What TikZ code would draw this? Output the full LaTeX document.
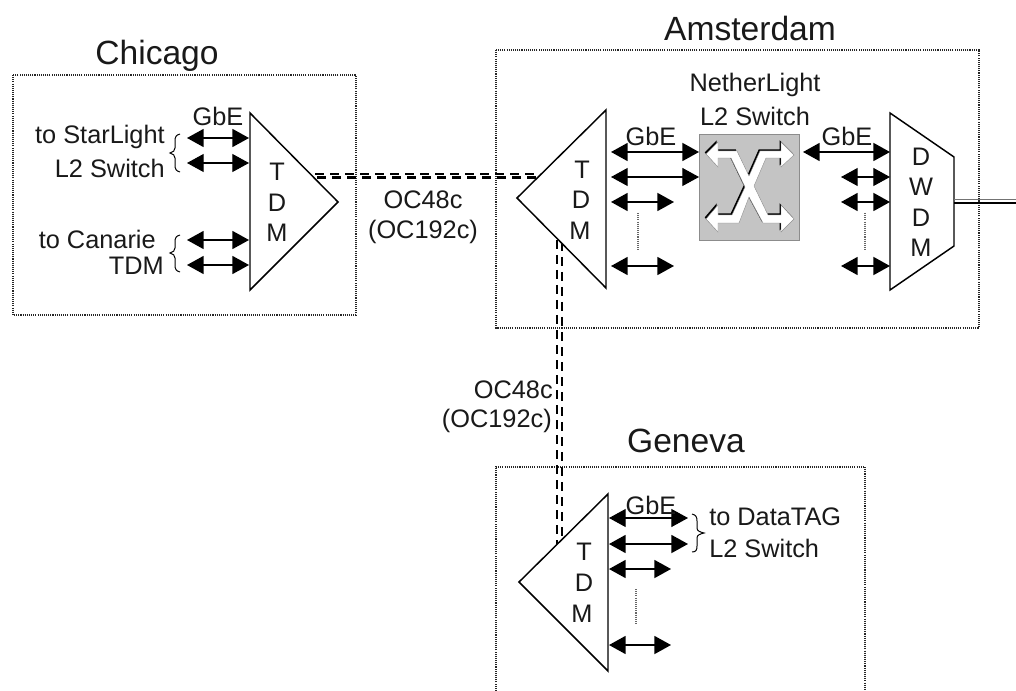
\documentclass[tikz,border=0pt]{standalone}
\usepackage{fontspec}
\setmainfont{Liberation Sans}
\usetikzlibrary{arrows.meta}
\tikzset{
  site/.style={draw=black!85,line width=0.8pt,dash pattern=on 0.8pt off 0.8pt},
  device/.style={draw=black,line width=1.1pt,fill=white,line join=miter},
  lbl/.style={inner sep=0pt,font=\fontsize{19}{21}\selectfont,text=black!90},
  ttl/.style={inner sep=0pt,font=\fontsize{25.2}{28}\selectfont,text=black!90},
  bia/.style={{Triangle[length=12.5pt,width=13.5pt]}-{Triangle[length=12.5pt,width=13.5pt]},line width=1.3pt},
  bib/.style={bia,line width=0.8pt},
  vdots/.style={draw=black!60,line width=0.8pt,dash pattern=on 0.8pt off 0.8pt},
  trunk/.style={draw=black,line width=1.7pt,dash pattern=on 6.8pt off 4.45pt},
  cbrace/.style={draw=black,line width=0.75pt},
}
\newcommand{\switchshape}{(706,154) -- (718,142) -- (718,151) -- (737,151) -- (749,176) -- (760,151) -- (781,151) -- (781,142) -- (794,155) -- (781,167) -- (781,158) -- (766,158) -- (754,186) -- (768,215) -- (781,215) -- (781,205) -- (794,219) -- (781,232) -- (781,223) -- (763,223) -- (749,197) -- (739,223) -- (718,223) -- (718,232) -- (706,219) -- (718,205) -- (718,215) -- (732,215) -- (745,187) -- (731,158) -- (718,158) -- (718,167) -- cycle}
\begin{document}
\begin{tikzpicture}[x=0.75pt,y=-0.75pt]
\useasboundingbox (0,0) rectangle (1016,691);
% sites
\draw[site] (13,75) rectangle (356,315);
\draw[site] (496,50) rectangle (979,328);
\draw[site] (496,691) -- (496,467) -- (865,467) -- (865,691);
\node[ttl] (tchi) at (157,56) {Chicago};
\node[ttl] (tams) at (750,28) {Amsterdam};
\node[ttl] (tgen) at (686,441) {Geneva};
% trunks
\coordinate (tc1) at (315,174); \coordinate (ta1) at (540,174);
\coordinate (tc2) at (317,177.5); \coordinate (ta2) at (537,177.5);
\coordinate (va1) at (557.3,240); \coordinate (vg1) at (557.3,551);
\coordinate (va2) at (561.7,242); \coordinate (vg2) at (561.7,549);
\draw[trunk] (tc1) -- (ta1);
\draw[trunk] (tc2) -- (ta2);
\draw[trunk] (va1) -- (vg1);
\draw[trunk] (va2) -- (vg2);
% devices
\draw[device] (250,113) -- (250,290) -- (338,202) -- cycle;
\draw[device] (606,110) -- (606,288) -- (517,198) -- cycle;
\draw[device] (608,494) -- (608,671) -- (519,582) -- cycle;
\draw[device] (890,113) -- (954,157) -- (954,246) -- (890,290) -- cycle;
% device letters
\node[lbl] (c1) at (277,172) {T};
\node[lbl] (c2) at (277,203) {D};
\node[lbl] (c3) at (277,233) {M};
\node[lbl] (a1) at (582,170) {T};
\node[lbl] (a2) at (581,200) {D};
\node[lbl] (a3) at (580,231) {M};
\node[lbl] (g1) at (584,552) {T};
\node[lbl] (g2) at (584,583) {D};
\node[lbl] (g3) at (582,614) {M};
\node[lbl] (d1) at (921,157) {D};
\node[lbl] (d2) at (921,187) {W};
\node[lbl] (d3) at (921,218) {D};
\node[lbl] (d4) at (921,248) {M};
% switch
\node[draw=black!45,line width=0.6pt,fill=black!23,minimum width=75.5pt,minimum height=79.5pt,inner sep=0pt] (sw) at (749.5,187) {};
\fill[black,shift={(-1.3,-1.6)}] \switchshape;
\draw[fill=white,draw=black!45,line width=0.3pt] \switchshape;
% chicago arrows
\coordinate (cl1) at (187,138); \coordinate (cr1) at (249,138);
\coordinate (cl2) at (187,163); \coordinate (cr2) at (249,163);
\coordinate (cl3) at (187,240); \coordinate (cr3) at (249,240);
\coordinate (cl4) at (187,265); \coordinate (cr4) at (249,265);
\draw[bia] (cl1) -- (cr1);
\draw[bib] (cl2) -- (cr2);
\draw[bia] (cl3) -- (cr3);
\draw[bia] (cl4) -- (cr4);
% amsterdam arrows
\coordinate (al1) at (611,152); \coordinate (ar1) at (699,152);
\coordinate (al2) at (611,177); \coordinate (ar2) at (699,177);
\coordinate (al3) at (611,202); \coordinate (ar3) at (674,202);
\coordinate (al4) at (611,266); \coordinate (ar4) at (674,266);
\draw[bia] (al1) -- (ar1);
\draw[bib] (al2) -- (ar2);
\draw[bia] (al3) -- (ar3);
\draw[bia] (al4) -- (ar4);
\coordinate (dl1) at (803,152); \coordinate (dr1) at (890,152);
\coordinate (dl2) at (841,177); \coordinate (dr2) at (890,177);
\coordinate (dl3) at (841,202); \coordinate (dr3) at (890,202);
\coordinate (dl4) at (841,266); \coordinate (dr4) at (890,266);
\draw[bia] (dl1) -- (dr1);
\draw[bib] (dl2) -- (dr2);
\draw[bia] (dl3) -- (dr3);
\draw[bia] (dl4) -- (dr4);
% geneva arrows
\coordinate (gl1) at (609,518); \coordinate (gr1) at (688,518);
\coordinate (gl2) at (609,544); \coordinate (gr2) at (688,544);
\coordinate (gl3) at (609,569); \coordinate (gr3) at (671,569);
\coordinate (gl4) at (609,645); \coordinate (gr4) at (671,645);
\draw[bib] (gl1) -- (gr1);
\draw[bia] (gl2) -- (gr2);
\draw[bia] (gl3) -- (gr3);
\draw[bia] (gl4) -- (gr4);
% dotted continuation marks
\coordinate (va) at (638,213); \coordinate (vb) at (638,250);
\coordinate (vc) at (865,213); \coordinate (vd) at (865,250);
\coordinate (ve) at (636,589); \coordinate (vf) at (636,625);
\draw[vdots] (va) -- (vb);
\draw[vdots] (vc) -- (vd);
\draw[vdots] (ve) -- (vf);
% braces
\draw[cbrace] (180,134) .. controls (176,135) and (175,137) .. (175,141) -- (175,148) .. controls (175,151) and (173,152) .. (170,153) .. controls (173,154) and (175,155) .. (175,158) -- (175,165) .. controls (175,169) and (176,171) .. (180,172);
\draw[cbrace] (180,235) .. controls (176,236) and (175,238) .. (175,242) -- (175,248) .. controls (175,251) and (173,252) .. (170,253) .. controls (173,254) and (175,255) .. (175,258) -- (175,265) .. controls (175,269) and (176,271) .. (180,272);
\draw[cbrace] (692,514) .. controls (696,515) and (697,517) .. (697,521) -- (697,528) .. controls (697,531) and (700,532) .. (704,533) .. controls (700,534) and (697,535) .. (697,538) -- (697,546) .. controls (697,550) and (696,552) .. (692,552);
% double fibre
\coordinate (f1) at (954,199.7); \coordinate (f2) at (1016,199.7);
\coordinate (f3) at (954,203.3); \coordinate (f4) at (1016,203.3);
\draw[black!55,line width=0.8pt] (f1) -- (f2);
\draw[black,line width=1.4pt] (f3) -- (f4);
% labels
\node[lbl] (l1) at (218,116) {GbE};
\node[lbl,anchor=east] (l2) at (165,137) {to StarLight};
\node[lbl,anchor=east] (l3) at (165,168) {L2 Switch};
\node[lbl,anchor=east] (l4) at (156,239) {to Canarie};
\node[lbl,anchor=east] (l5) at (164,266) {TDM};
\node[lbl] (l6) at (423,200) {OC48c};
\node[lbl] (l7) at (423,232) {(OC192c)};
\node[lbl] (l8) at (755,85) {NetherLight};
\node[lbl] (l9) at (755,116) {L2 Switch};
\node[lbl] (l10) at (651,136) {GbE};
\node[lbl] (l11) at (847,136) {GbE};
\node[lbl,anchor=east] (l12) at (553,390) {OC48c};
\node[lbl,anchor=east] (l13) at (552,421) {(OC192c)};
\node[lbl] (l14) at (651,505) {GbE};
\node[lbl,anchor=west] (l15) at (709,517) {to DataTAG};
\node[lbl,anchor=west] (l16) at (709,548) {L2 Switch};
\end{tikzpicture}
\end{document}
